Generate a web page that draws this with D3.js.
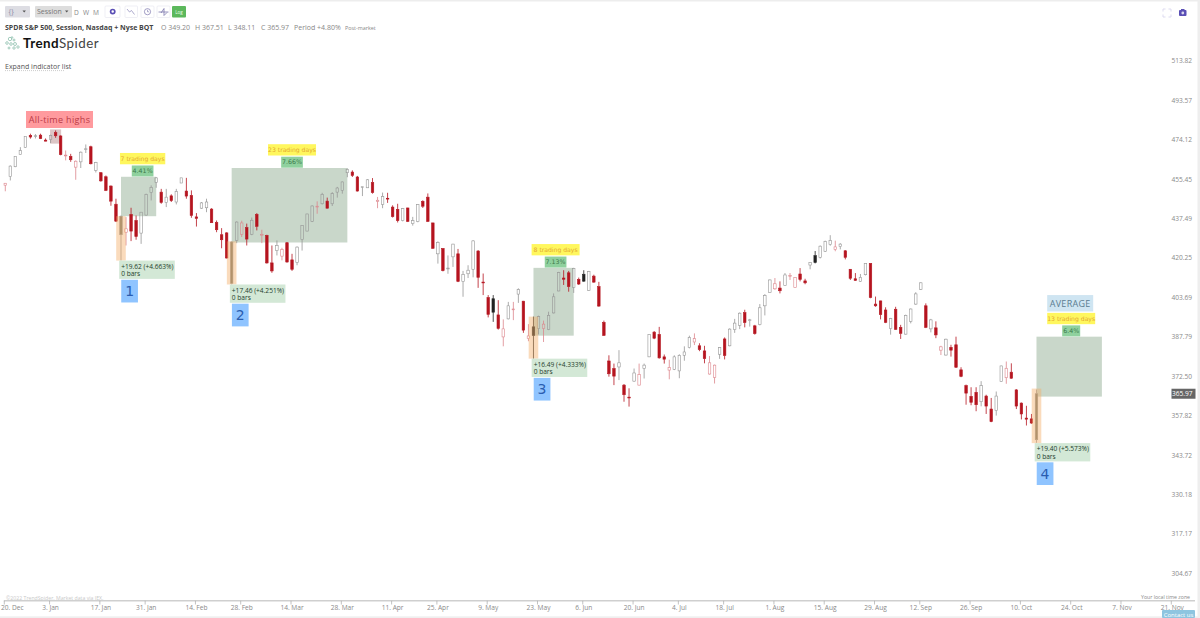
<!DOCTYPE html>
<html><head><meta charset="utf-8">
<script src="https://cdn.jsdelivr.net/npm/d3@7/dist/d3.min.js"></script>
<style>html,body{margin:0;padding:0;background:#fff;overflow:hidden}svg{display:block}text{font-family:"Open Sans",sans-serif}</style>
</head><body><div id="chart"></div>
<script>
const priorClose = 455;
const opens = [452.7,456.7,461.3,467.1,470.5,476.3,475.8,476.4,474.0,474.2,
477.6,476.0,466.6,466.2,461.1,463.6,469.5,470.8,459.6,458.5,
456.6,452.3,444.0,430.4,431.5,439.4,436.7,431.1,439.1,449.4,
454.0,449.5,444.8,447.8,445.0,453.7,450.0,448.0,438.3,442.2,
442.4,441.8,435.8,430.4,431.2,409.6,427.9,430.6,433.5,430.6,
439.4,430.2,430.1,418.2,423.5,421.1,426.9,419.5,418.3,428.3,
432.0,436.3,442.8,444.2,445.4,444.2,449.5,450.3,458.5,458.8,
456.5,451.7,451.5,453.9,445.3,443.9,446.7,442.7,441.7,436.6,
442.3,435.3,436.2,445.3,447.2,435.6,422.1,424.4,415.8,420.8,
422.1,410.3,413.6,415.5,423.3,410.1,403.7,403.2,396.6,387.8,
395.0,398.8,405.1,402.2,387.1,391.8,391.1,391.1,390.7,397.4,
406.4,411.8,414.0,407.9,411.2,413.4,406.6,412.6,408.2,393.6,
378.4,375.5,376.1,369.2,364.7,370.7,369.2,375.5,380.0,389.7,
388.8,380.0,374.9,375.2,374.6,380.6,383.6,385.8,384.3,382.3,
373.4,372.1,381.0,387.0,384.3,390.7,392.4,397.5,394.3,392.2,
392.7,400.3,405.8,407.3,407.6,408.7,412.6,407.9,413.5,410.6,
417.3,421.3,420.6,423.2,426.1,424.0,425.2,423.4,415.5,411.5,
410.4,413.2,418.0,401.0,402.3,398.6,391.1,398.9,391.6,388.9,
394.0,401.0,407.1,400.3,391.0,391.4,382.6,380.7,383.7,384.7,
375.0,369.0,365.0,366.5,363.0,365.1,360.3,359.7,370.6,372.0,
374.1,367.4,362.5,357.0,356.7,349.2];
const highs = [453.7,461.9,466.2,470.6,475.8,477.1,476.9,477.1,474.8,476.6,
478.7,476.3,469.0,467.4,464.3,468.5,471.9,471.3,463.6,458.8,
457.2,452.6,446.5,438.9,438.2,442.4,438.9,440.4,448.8,452.6,
456.4,451.0,451.0,448.5,451.0,456.1,456.1,450.3,440.0,445.0,
446.5,442.2,436.7,433.3,431.5,427.5,436.3,436.6,435.3,438.0,
440.0,432.6,430.4,425.7,427.9,424.7,427.2,422.1,425.3,434.5,
439.7,443.5,445.3,449.2,447.0,449.5,451.9,454.4,460.5,459.6,
457.0,452.0,455.5,456.0,447.3,449.3,449.2,443.5,444.2,442.3,
442.4,438.3,444.0,445.8,448.9,435.7,427.5,424.5,421.4,426.4,
424.2,414.8,417.2,428.0,423.7,413.7,404.7,404.7,402.6,394.8,
401.9,401.9,407.5,402.3,392.9,395.9,396.3,394.3,397.9,405.4,
414.4,415.1,414.8,416.1,412.0,415.1,414.8,413.2,410.2,394.3,
380.6,377.4,382.6,369.6,368.0,375.5,377.4,377.4,388.8,390.1,
391.8,380.9,378.9,380.6,381.0,384.1,388.3,389.2,385.3,384.3,
380.3,377.0,383.8,387.6,391.2,395.0,397.6,398.7,395.0,392.6,
401.0,405.1,411.2,411.8,410.4,413.9,413.9,412.1,416.0,411.5,
418.4,423.3,425.7,427.8,430.2,427.8,426.7,423.7,415.6,413.9,
413.5,418.1,418.1,404.1,402.4,399.7,395.4,399.9,392.6,396.7,
399.2,405.9,410.0,401.3,395.0,394.0,384.3,387.1,384.7,387.9,
376.0,369.4,368.4,368.4,370.7,365.6,364.4,366.8,376.6,378.2,
377.5,367.7,362.7,361.5,358.5,367.51];
const lows = [449.9,454.9,461.1,467.0,470.3,474.7,474.8,474.5,473.4,472.6,
475.1,466.7,464.3,463.6,455.2,460.7,467.8,462.4,458.6,454.3,
450.0,443.3,436.0,419.2,425.7,427.6,428.2,426.4,438.9,445.7,
451.5,444.2,442.7,445.0,443.9,453.7,446.5,437.9,434.0,441.9,
440.4,435.6,431.5,424.5,420.1,409.1,426.7,429.4,425.7,430.2,
432.3,426.7,417.9,414.0,421.4,419.3,418.3,414.8,417.2,423.5,
431.9,436.0,439.7,443.9,442.1,443.2,447.0,448.8,456.4,456.5,
449.8,447.7,451.4,448.8,442.2,442.2,444.6,438.0,435.8,436.3,
436.0,434.4,435.9,442.3,436.0,424.2,417.9,414.6,413.6,416.5,
410.1,404.0,411.8,412.1,407.7,404.7,395.6,393.8,390.7,384.1,
394.8,394.5,401.5,389.4,386.1,379.3,388.8,385.8,390.5,397.2,
406.3,408.9,406.1,405.6,408.9,410.2,406.4,409.8,399.9,388.2,
372.4,369.2,371.1,363.0,361.2,370.5,369.1,371.7,379.9,386.9,
379.3,377.4,371.4,374.9,371.8,378.5,383.3,384.6,382.2,377.5,
373.2,369.8,379.2,379.0,384.1,389.4,390.9,391.6,391.9,388.7,
392.4,396.4,405.7,406.9,405.4,408.6,411.0,407.8,410.4,409.2,
415.5,418.0,420.1,422.9,425.6,423.2,424.0,419.7,411.0,410.6,
410.2,412.9,403.4,399.9,394.8,393.3,388.7,390.6,387.0,388.7,
393.2,400.7,406.8,391.3,389.6,387.3,380.7,380.5,380.1,375.7,
372.2,361.9,361.7,359.5,361.3,358.5,355.5,357.9,370.5,369.7,
371.6,360.3,356.5,354.3,354.9,348.11];
const closes = [453.6,461.6,466.2,469.0,475.8,475.5,476.1,474.7,473.5,476.3,
476.1,467.0,466.8,464.6,463.9,468.2,469.8,462.7,463.3,454.7,
450.3,445.4,436.4,438.6,433.0,432.0,429.6,440.4,448.5,451.7,
456.1,444.8,447.2,445.6,449.8,456.1,447.7,438.9,437.6,444.6,
445.0,435.7,432.6,428.2,420.3,427.2,436.0,435.6,428.5,436.8,
434.1,430.6,418.2,414.8,425.7,424.0,418.6,415.5,425.0,434.4,
439.6,443.2,443.1,448.5,442.2,448.8,451.4,454.2,460.1,457.2,
450.0,452.0,455.2,449.3,445.8,447.5,446.4,438.4,436.6,442.0,
436.3,436.6,443.8,443.1,436.3,424.5,427.0,414.9,416.0,426.3,
410.4,413.3,415.1,427.7,412.1,409.8,396.8,397.7,391.2,391.0,
400.3,399.0,407.0,390.5,388.2,388.4,395.9,392.9,396.4,404.0,
414.1,411.3,408.2,415.9,409.3,410.5,414.5,410.1,400.2,388.4,
373.5,372.6,377.7,365.6,364.5,373.8,373.2,376.8,388.7,387.3,
379.6,379.1,375.9,380.0,380.6,381.9,387.6,387.1,382.8,379.3,
377.7,376.8,383.6,380.5,390.9,393.3,397.3,393.5,394.6,389.1,
399.5,404.5,411.0,409.4,406.5,413.1,412.9,412.0,411.2,409.8,
418.3,418.4,425.4,427.5,427.9,425.1,426.3,420.6,411.7,410.8,
412.1,418.0,403.7,400.3,396.7,393.6,395.1,390.8,389.2,396.4,
399.0,405.2,409.8,391.6,394.6,388.6,383.9,386.9,382.6,376.0,
372.5,366.2,362.8,361.9,369.0,361.4,355.7,365.1,376.5,375.6,
371.8,361.4,358.5,356.6,355.2,365.97];

const priceTicks = [513.82,493.57,474.12,455.45,437.49,420.25,403.69,387.79,372.50,357.82,343.72,330.18,317.17,304.67];
const dateTickBars = [0,9,19,28,38,47,57,67,77,86,96,106,115,125,134,143,153,163,173,182,192,202,212,222,232];
const dateTickLabels = ["20. Dec","3. Jan","17. Jan","31. Jan","14. Feb","28. Feb","14. Mar","28. Mar","11. Apr","25. Apr","9. May","23. May","6. Jun","20. Jun","4. Jul","18. Jul","1. Aug","15. Aug","29. Aug","12. Sep","26. Sep","10. Oct","24. Oct","7. Nov","21. Nov"];
const lastClose = 365.97;

// annotated reversals
const setupStart = [23,45,105,205];
const setupEnd = [30,68,113,218];
const targetHigh = [456.6,460.7,416.1,387.9];
const targetLow = [438.6,427.0,388.3,364.9];
const barHigh = [438.6,427.5,395.9,367.9];
const barLow = [419.2,409.1,379.3,348.0];
const labelBar = [27.3,57,109.4,211.9];
const tradingDays = ["7 trading days","23 trading days","8 trading days","13 trading days"];
const gainPercent = ["4.41%","7.66%","7.13%","6.4%"];
const moveLabels = ["+19.62 (+4.663%)","+17.46 (+4.251%)","+16.49 (+4.333%)","+19.40 (+5.573%)"];
const setupNames = ["1","2","3","4"];
const athBars = [8.9,11.1], athPrices = [479.2,472.3];

const W=1200,H=618;
const svg=d3.select("#chart").append("svg").attr("width",W).attr("height",H);
const x=d3.scaleLinear().domain([0,232]).range([5.3,1172.3]);
const y=d3.scaleLog().domain([304.67,513.82]).range([573.5,61]);
const bars=d3.range(opens.length);

// page frame
svg.append("rect").attr("x",0).attr("y",0).attr("width",W).attr("height",1.5).attr("fill","#ededed");
svg.append("rect").attr("x",1197.5).attr("y",0).attr("width",2.5).attr("height",H).attr("fill","#eeeeee");
svg.append("rect").attr("x",0).attr("y",616.3).attr("width",W).attr("height",1.7).attr("fill","#efefef");

// target boxes below candles
const G=svg.append("g");
G.selectAll("rect.target").data(setupStart).join("rect").attr("class","target")
 .attr("x",(d)=>x(d)).attr("width",(d,i)=>x(setupEnd[i])-x(d))
 .attr("y",(d,i)=>y(targetHigh[i])).attr("height",(d,i)=>y(targetLow[i])-y(targetHigh[i]))
 .attr("fill","#c9d7ca");
G.append("rect").attr("x",x(athBars[0])).attr("width",x(athBars[1])-x(athBars[0]))
 .attr("y",y(athPrices[0])).attr("height",y(athPrices[1])-y(athPrices[0])).attr("fill","#dcc6c6");

// candles
const reversal=new Set(setupStart);
function colour(i){
  const prev=i?closes[i-1]:priorClose;
  const filled=closes[i]<opens[i];
  const down=closes[i]<prev;
  if(filled) return down?"#b5141f":"#222222";
  return down?"#dc858c":"#969696";
}
const C=svg.append("g");
const candle=C.selectAll("g").data(bars).join("g");
candle.append("line").attr("x1",d=>x(d)).attr("x2",d=>x(d))
 .attr("y1",d=>y(highs[d])).attr("y2",d=>y(Math.max(opens[d],closes[d])))
 .attr("stroke",colour).attr("stroke-width",0.8);
candle.append("line").attr("x1",d=>x(d)).attr("x2",d=>x(d))
 .attr("y1",d=>y(Math.min(opens[d],closes[d]))).attr("y2",d=>y(lows[d]))
 .attr("stroke",colour).attr("stroke-width",0.8);
candle.append("rect")
 .attr("x",d=>x(d)-1.25).attr("width",2.5)
 .attr("y",d=>y(Math.max(opens[d],closes[d])))
 .attr("height",d=>Math.max(0.8,Math.abs(y(opens[d])-y(closes[d]))))
 .attr("fill",d=>{
   if(closes[d]<opens[d]) return colour(d);
   return reversal.has(d)?"#7d7b6c":"none";
 })
 .attr("stroke",colour).attr("stroke-width",0.6);

// reversal bar highlight
const Hi=svg.append("g");
Hi.selectAll("rect").data(setupStart).join("rect")
 .attr("x",d=>x(d)-4.8).attr("width",9.6)
 .attr("y",(d,i)=>y(barHigh[i])).attr("height",(d,i)=>y(barLow[i])-y(barHigh[i]))
 .attr("fill","#f5b06a").attr("opacity",0.45);

// annotation labels
const L=svg.append("g");
function chip(g,cx,top,w,h,fill,text,col,fs,font,ls){
  g.append("rect").attr("x",cx-w/2).attr("y",top).attr("width",w).attr("height",h).attr("fill",fill);
  g.append("text").attr("x",cx).attr("y",top+h/2).attr("dy","0.36em").attr("text-anchor","middle")
   .attr("font-size",fs).attr("fill",col).attr("letter-spacing",ls||0).style("font-family",font||'"DejaVu Sans",sans-serif').text(text);
}
setupStart.forEach((b,i)=>{
  const top=y(targetHigh[i]), cx=x(labelBar[i]);
  const isAvg=i===3;
  chip(L,cx,top-11.3,i===3?18:21.7,11,"#8fd19e",gainPercent[i],"#3d7a4c",6.3);
  chip(L,cx,top-23.8,i===0?45.3:48,11.3,"#fff75e",tradingDays[i],"#e3a72f",6.1);
  if(isAvg) chip(L,cx-1,top-41.6,46,16.4,"#cfe5f2","AVERAGE","#5b7c90",9,'"Open Sans",sans-serif',0.3);
  const bot=y(barLow[i]), left=x(b)-1.8;
  L.append("rect").attr("x",left).attr("y",bot).attr("width",55.6).attr("height",18.3).attr("fill","#d3e8d6");
  L.append("text").attr("x",left+2).attr("y",bot+8.2).attr("font-size",6.6).attr("fill","#24402c").text(moveLabels[i]);
  L.append("text").attr("x",left+2).attr("y",bot+15.4).attr("font-size",6.6).attr("fill","#24402c").text("0 bars");
  chip(L,x(b)+8.6,bot+19.2,16.7,22.7,"#8fc4ff",setupNames[i],"#2a5db0",14,'"DejaVu Sans",sans-serif');
});
chip(L,59.5,111,67,17,"#ff9a9e","All-time highs","#bb3b46",9,'"Open Sans",sans-serif',0.35);

// price axis
const PA=svg.append("g");
PA.selectAll("text").data(priceTicks).join("text")
 .attr("x",1192).attr("y",d=>y(d)).attr("dy","0.36em").attr("text-anchor","end")
 .attr("font-size",6.6).attr("fill","#8a8a8a").text(d=>d.toFixed(2));
PA.append("rect").attr("x",1171.5).attr("y",y(lastClose)-5).attr("width",24).attr("height",10).attr("fill","#666");
PA.append("text").attr("x",1192.5).attr("y",y(lastClose)).attr("dy","0.36em").attr("text-anchor","end")
 .attr("font-size",6.6).attr("fill","#fff").text(lastClose.toFixed(2));

// date axis
const DA=svg.append("g");
DA.append("line").attr("x1",x(0)-1.5).attr("x2",1195).attr("y1",600.8).attr("y2",600.8).attr("stroke","#cfcfcf").attr("stroke-width",1.4);
DA.selectAll("line.t").data(dateTickBars).join("line").attr("class","t")
 .attr("x1",d=>x(d)-1).attr("x2",d=>x(d)-1).attr("y1",600.8).attr("y2",604.5).attr("stroke","#a8a8a8").attr("stroke-width",.7);
DA.selectAll("text").data(dateTickBars).join("text")
 .attr("x",(d,i)=>i===0?x(d)+7:x(d)).attr("y",608).attr("dy","0.36em").attr("text-anchor","middle")
 .attr("font-size",6.6).attr("fill","#8a8a8a").text((d,i)=>dateTickLabels[i]);
svg.append("text").attr("x",6).attr("y",600).attr("font-size",5.2).attr("fill","#c9c9c9").text("©2022 TrendSpider. Market data via IEX.");
svg.append("text").attr("x",1190).attr("y",599).attr("text-anchor","end").attr("font-size",5.2).attr("fill","#888").text("Your local time zone");
svg.append("rect").attr("x",1162).attr("y",610).attr("width",33).attr("height",8).attr("rx",1).attr("fill","#8ec5e0");
svg.append("text").attr("x",1178.5).attr("y",614.6).attr("dy","0.36em").attr("text-anchor","middle").attr("font-size",6).attr("fill","#fff").text("Contact us");

// toolbar
const T=svg.append("g");
const tb=(x0,w,fill,stroke)=>T.append("rect").attr("x",x0).attr("y",6).attr("width",w).attr("height",11.5).attr("rx",1).attr("fill",fill).attr("stroke",stroke||"none").attr("stroke-width",.6);
tb(5,25,"#dddde3");
T.append("text").attr("x",8.5).attr("y",14.4).attr("font-size",7).attr("fill","#8a8aa5").text("{}");
T.append("path").attr("d","M22.5 10.5h3.4l-1.7 2z").attr("fill","#555");
tb(35,37,"#dddddd");
T.append("text").attr("x",37).attr("y",14.4).attr("font-size",7).attr("fill","#777").text("Session");
T.append("path").attr("d","M65 10.5h3.4l-1.7 2z").attr("fill","#555");
[["D",76.5],["W",86],["M",96]].forEach(d=>T.append("text").attr("x",d[1]).attr("y",14.5).attr("text-anchor","middle").attr("font-size",6.6).attr("fill","#888").text(d[0]));
tb(105,15,"#fff","#e4e4ee");
T.append("circle").attr("cx",112.7).attr("cy",11.6).attr("r",2.1).attr("fill","none").attr("stroke","#5b4fb5").attr("stroke-width",1.7);
tb(125,12.5,"#fff","#e4e4ee");
T.append("path").attr("d","M127 9l2.5 3 2-1.5 3 4").attr("fill","none").attr("stroke","#8b86b8").attr("stroke-width",.7);
tb(141,13,"#fff","#e4e4ee");
T.append("circle").attr("cx",147.5).attr("cy",11.7).attr("r",3.1).attr("fill","none").attr("stroke","#7b76ad").attr("stroke-width",.7);
T.append("path").attr("d","M147.5 9.8v2h1.6").attr("fill","none").attr("stroke","#7b76ad").attr("stroke-width",.6);
tb(157,13,"#fff","#e4e4ee");
T.append("path").attr("d","M158.5 12h10M161 13l3-4.5v7l3-3").attr("fill","none").attr("stroke","#6d68a5").attr("stroke-width",.7);
tb(172,14,"#5cb85c");
T.append("text").attr("x",179).attr("y",13.5).attr("text-anchor","middle").attr("font-size",4.6).attr("fill","#e8ffe8").text("Log");

// title line
const hd=(tx,px,s,c,w)=>svg.append("text").attr("x",px).attr("y",30).attr("font-size",s).attr("fill",c).attr("font-weight",w||400).text(tx);
hd("SPDR S&P 500, Session, Nasdaq + Nyse BQT",5,7,"#444",700);
hd("O 349.20",161,7,"#888");hd("H 367.51",195,7,"#888");hd("L 348.11",228,7,"#888");hd("C 365.97",261,7,"#888");
hd("Period +4.80%",294,7,"#888");hd("Post-market",345,5.4,"#888");

// logo
const dots=[[7,43,1.3],[10,39,1.7],[14,40,1],[11,44,1.3],[15,44,1.5],[9,48,1],[18,47,1.2],[12,37.5,.8],[14,48,1.2]];
svg.append("g").selectAll("circle").data(dots).join("circle").attr("cx",d=>d[0]).attr("cy",d=>d[1]).attr("r",d=>d[2]).attr("fill","#fff").attr("stroke","#7fb8a4").attr("stroke-width",.7);
const lg=svg.append("text").attr("x",23).attr("y",48).attr("font-size",13.4).attr("letter-spacing",0.45).style("font-family","Lato,sans-serif");
lg.append("tspan").attr("font-weight",700).attr("fill","#111").text("Trend");
lg.append("tspan").attr("font-weight",400).attr("fill","#444").text("Spider");

svg.append("text").attr("x",5).attr("y",69).attr("font-size",7).attr("fill","#555").text("Expand indicator list");
svg.append("line").attr("x1",5).attr("x2",64.5).attr("y1",70.6).attr("y2",70.6).attr("stroke","#aaa").attr("stroke-width",.6).attr("stroke-dasharray","1 1");

// corner icons
const ci=svg.append("g").attr("fill","none").attr("stroke","#d9d7ee").attr("stroke-width",.9);
ci.append("path").attr("d","M1163 11.5v-2.5h2.5M1168.5 9h2.5v2.5M1171 14.5v2.5h-2.5M1165.5 17h-2.5v-2.5");
svg.append("rect").attr("x",1179).attr("y",10).attr("width",7.5).attr("height",6).attr("rx",1).attr("fill","#5a4fb5");
svg.append("rect").attr("x",1181).attr("y",9).attr("width",3.5).attr("height",2).attr("fill","#5a4fb5");
svg.append("circle").attr("cx",1182.8).attr("cy",13).attr("r",1.4).attr("fill","#d9d7ee");
</script></body></html>
